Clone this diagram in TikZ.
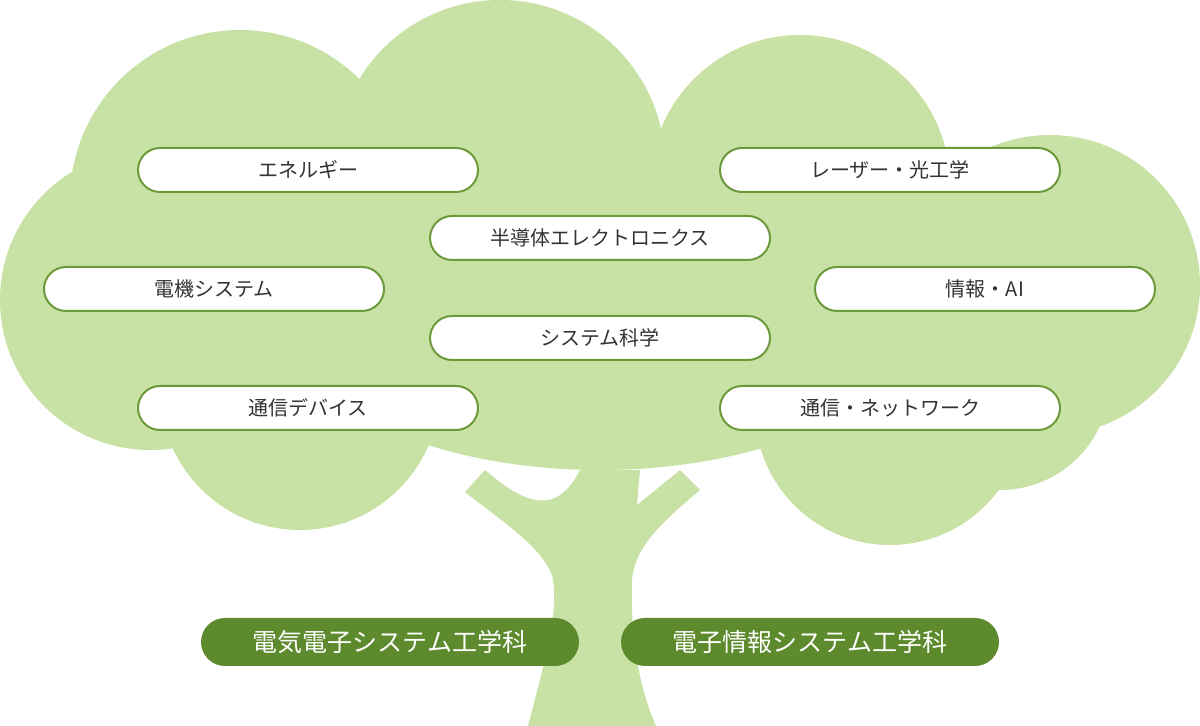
\documentclass[tikz,border=0pt]{standalone}
\usepackage{fontspec}
\setmainfont{Noto Sans CJK JP}
\definecolor{crown}{HTML}{C8E2A5}
\definecolor{leafline}{HTML}{6A9A3A}
\definecolor{darkleaf}{HTML}{5E8A2E}
\definecolor{ink}{HTML}{333333}
\tikzset{
  field/.style={draw=leafline,line width=1pt,fill=white,rounded corners=11pt,
    minimum width=170pt,minimum height=22pt,text=ink,font=\fontsize{10}{12}\selectfont},
  dept/.style={fill=darkleaf,rounded corners=12pt,minimum width=189pt,
    minimum height=24pt,text=white,font=\fontsize{12.5}{14}\selectfont}
}
\begin{document}
\begin{tikzpicture}[x=0.5pt,y=-0.5pt]
  \useasboundingbox (0,0) rectangle (1200,726);
  %% trunk
  \fill[crown] (528,726) .. controls (545,660) and (560,610) .. (552,575)
    .. controls (540,545) and (500,520) .. (465,492) -- (485,470)
    .. controls (520,500) and (555,520) .. (580,470) -- (640,470)
    -- (637,505) -- (680,470) -- (700,490)
    .. controls (665,520) and (635,545) .. (632,580)
    .. controls (630,640) and (640,690) .. (656,726) -- cycle;
  %% crown
  \fill[crown] (150,300) circle (150) (240,200) circle (170) (500,165) circle (165)
    (800,185) circle (150) (1050,285) circle (150) (300,390) circle (140)
    (890,410) circle (135) (1000,380) circle (110) (600,300) ellipse (330 and 170);
  %% fields
  \node[field] (energy) at (308,170) {エネルギー};
  \node[field] (laser) at (890,170) {レーザー・光工学};
  \node[field] (semi) at (600,238) {半導体エレクトロニクス};
  \node[field] (power) at (214,289) {電機システム};
  \node[field] (info) at (985,289) {情報・AI};
  \node[field] (syssci) at (600,338) {システム科学};
  \node[field] (device) at (308,408) {通信デバイス};
  \node[field] (network) at (890,408) {通信・ネットワーク};
  %% departments
  \node[dept] (eee) at (390,642) {電気電子システム工学科};
  \node[dept] (eis) at (810,642) {電子情報システム工学科};
\end{tikzpicture}
\end{document}
